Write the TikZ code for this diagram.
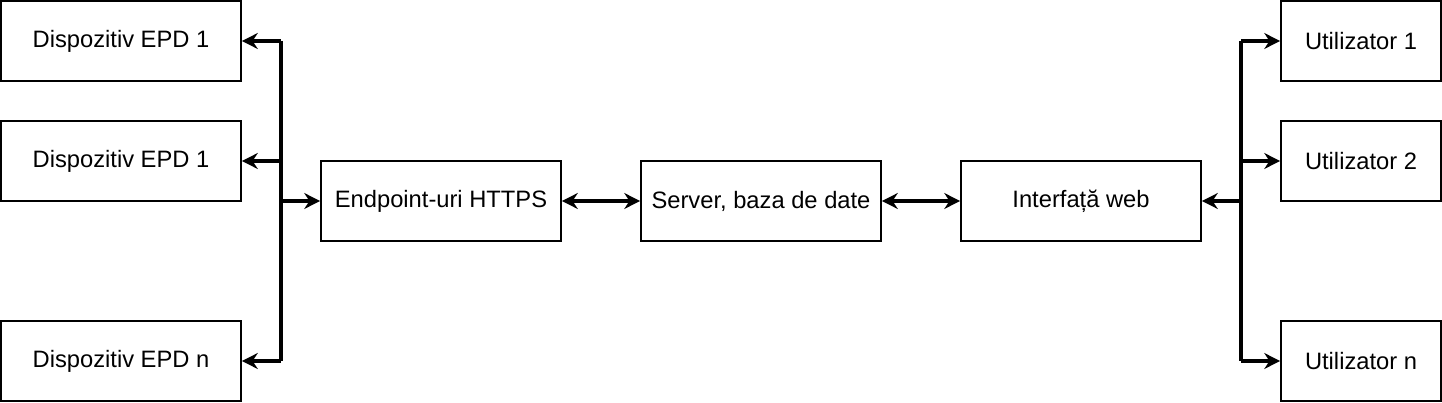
\documentclass[tikz,border=0pt]{standalone}
\usepackage{fontspec}
\setmainfont{Liberation Sans}
\usetikzlibrary{arrows.meta, positioning, calc}

\begin{document}
\begin{tikzpicture}[x=0.02cm, y=-0.02cm,
        box/.style={draw, line width=1pt, minimum height=1.6cm,
                    font=\fontsize{13.5}{16}\selectfont, inner sep=0pt},
        dev/.style={box, minimum width=4.8cm},
        usr/.style={box, minimum width=3.2cm},
        mid/.style={box, minimum width=4.8cm},
        link/.style={line width=2pt, -{Stealth[length=9pt, width=9pt]}},
        dlink/.style={line width=2pt, {Stealth[length=9pt, width=9pt]}-{Stealth[length=9pt, width=9pt]}}
      ]
        \useasboundingbox (0,0) rectangle (1442,402);
        % Devices (left)
        \node[dev] (d1) at (121, 41) {Dispozitiv EPD 1};
        \node[dev] (d2) at (121,161) {Dispozitiv EPD 1};
        \node[dev] (dn) at (121,361) {Dispozitiv EPD n};
        % Middle chain
        \node[mid] (https) at (441,201) {Endpoint-uri HTTPS};
        \node[mid] (srv)   at (761,201) {Server, baza de date};
        \node[mid] (web)   at (1081,201) {Interfață web};
        % Users (right)
        \node[usr] (u1) at (1361, 41) {Utilizator 1};
        \node[usr] (u2) at (1361,161) {Utilizator 2};
        \node[usr] (un) at (1361,361) {Utilizator n};
        % Bus coordinates
        \coordinate (lt) at (281, 41);
        \coordinate (lm) at (281,161);
        \coordinate (lc) at (281,201);
        \coordinate (lb) at (281,361);
        \coordinate (rt) at (1241, 41);
        \coordinate (rm) at (1241,161);
        \coordinate (rc) at (1241,201);
        \coordinate (rb) at (1241,361);
        % Left bus
        \draw[line width=2pt] (lt) -- (lb);
        \draw[link] (lt) -- (d1);
        \draw[link] (lm) -- (d2);
        \draw[link] (lb) -- (dn);
        \draw[link] (lc) -- (https);
        % Middle links
        \draw[dlink] (https) -- (srv);
        \draw[dlink] (srv) -- (web);
        % Right bus
        \draw[line width=2pt] (rt) -- (rb);
        \draw[link] (rc) -- (web);
        \draw[link] (rt) -- (u1);
        \draw[link] (rm) -- (u2);
        \draw[link] (rb) -- (un);
\end{tikzpicture}
\end{document}
